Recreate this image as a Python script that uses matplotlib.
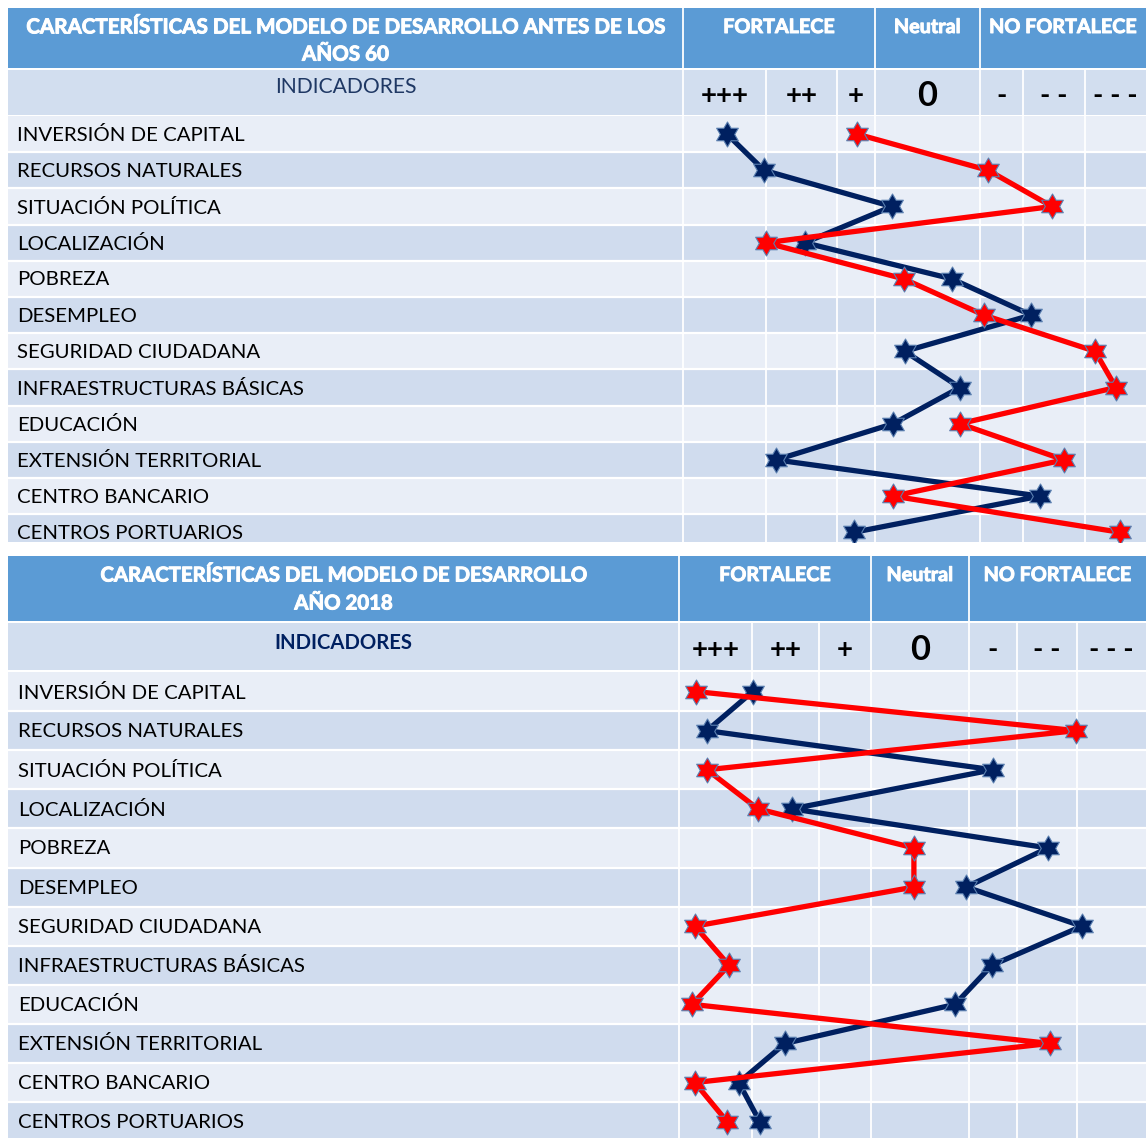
import matplotlib
matplotlib.use("Agg")
import matplotlib.pyplot as plt
from matplotlib.path import Path
from matplotlib.patches import Rectangle
from matplotlib import font_manager as fm
import matplotlib.patheffects as pe
import numpy as np

# ---------------- data ----------------
indicators = ["INVERSIÓN DE CAPITAL", "RECURSOS NATURALES", "SITUACIÓN POLÍTICA",
              "LOCALIZACIÓN", "POBREZA", "DESEMPLEO", "SEGURIDAD CIUDADANA",
              "INFRAESTRUCTURAS BÁSICAS", "EDUCACIÓN", "EXTENSIÓN TERRITORIAL",
              "CENTRO BANCARIO", "CENTROS PORTUARIOS"]
scale_labels = ["+++", "++", "+", "0", "-", "- -", "- - -"]
group_labels = ["FORTALECE", "Neutral", "NO FORTALECE"]
title_pre60 = "CARACTERÍSTICAS DEL MODELO DE DESARROLLO ANTES DE LOS\nAÑOS 60"
title_2018 = "CARACTERÍSTICAS DEL MODELO DE DESARROLLO\nAÑO 2018"
indic_label = "INDICADORES"

# positions on a 0-100 rating scale (0 = "+++" edge, 100 = "- - -" edge)
pre60_blue = [9.5, 17.5, 45.1, 26.3, 58.1, 75.2, 47.9, 59.8, 45.4, 20.1, 77.1, 36.9]
pre60_red = [37.6, 65.9, 79.7, 17.9, 47.7, 65.0, 89.0, 93.5, 59.8, 82.3, 45.4, 94.4]
y2018_blue = [15.8, 6.0, 67.2, 24.2, 79.0, 61.5, 86.3, 67.0, 59.1, 22.7, 12.8, 17.3]
y2018_red = [3.6, 85.0, 6.0, 16.9, 50.3, 50.3, 3.4, 10.7, 2.8, 79.4, 3.4, 10.3]

# ---------------- style ----------------
HEAD = "#5B9BD5"
SUB = "#D2DEEF"
LIGHT = "#E9EEF7"
DARK = "#D0DCEE"
NAVY = "#002060"
RED = "#FF0000"

entries = fm.fontManager.ttflist
names = {f.name for f in entries}
body = "Lato" if "Lato" in names else "DejaVu Sans"


def has_bold(fam):
    return any(f.name == fam and (f.weight in ("bold", "heavy", "black", "extra bold",
                                                "semibold", "demibold")
                                  or (isinstance(f.weight, int) and f.weight >= 600))
               for f in entries)


bold_font = next((f for f in ["Lato", "Open Sans", "Roboto", "Noto Sans", "DejaVu Sans"]
                  if has_bold(f)), "DejaVu Sans")
white_bold = [pe.withStroke(linewidth=0.7, foreground="white")]

angles = np.deg2rad(90 + np.arange(12) * 30)
radii = np.where(np.arange(12) % 2 == 0, 1.0, 1 / np.sqrt(3))
verts = np.column_stack([radii * np.cos(angles), radii * np.sin(angles)])
verts = np.vstack([verts, verts[0]])
codes = [Path.MOVETO] + [Path.LINETO] * 11 + [Path.CLOSEPOLY]
hexagram = Path(verts, codes)

W, H = 1146, 1138
fig = plt.figure(figsize=(W / 100, H / 100), dpi=100)
bg = fig.add_axes([0, 0, 1, 1])
bg.set_xlim(0, W)
bg.set_ylim(H, 0)
bg.axis("off")
renderer = fig.canvas.get_renderer()


def fit_size(txt, target_px, base=14, family=body, **kw):
    t = bg.text(0, 0, txt, fontsize=base, family=family, **kw)
    w = t.get_window_extent(renderer).width
    t.remove()
    return base * target_px / w


tables = [
    dict(left=8, right=1146, head_top=8, head_bot=68, sub_top=70, sub_bot=115,
         rows_top=116, row_h=36.2, bottom=541.5,
         cols=[683, 766, 837, 875, 980, 1023, 1085, 1146],
         groups=[683, 875, 980, 1146], title=title_pre60, title_w=646,
         title_lsp=1.45, title_dy=3, indic_bold=False, indic_w=142,
         indic_color="#1F3864", label_x=17, sym_y=96, indic_y=87,
         blue=pre60_blue, red=pre60_red),
    dict(left=8, right=1146, head_top=556, head_bot=621, sub_top=623, sub_bot=670,
         rows_top=672, row_h=39.1, bottom=1138,
         cols=[679, 752, 819, 871, 969, 1017, 1077, 1146],
         groups=[679, 871, 969, 1146], title=title_2018, title_w=493,
         title_lsp=1.5, title_dy=1, indic_bold=True, indic_w=139,
         indic_color=NAVY, label_x=18, sym_y=650, indic_y=643,
         blue=y2018_blue, red=y2018_red),
]

label_fs = fit_size(indicators[0], 228)
group_fs = fit_size(group_labels[0], 112, family=bold_font, fontweight="bold")
sym_fs = fit_size("+++", 48, family=bold_font, fontweight="bold")

for t in tables:
    L, R = t["left"], t["right"]
    lab_r = t["cols"][0]
    bg.add_patch(Rectangle((L, t["head_top"]), R - L, t["head_bot"] - t["head_top"],
                           facecolor=HEAD, edgecolor="none"))
    bg.add_patch(Rectangle((L, t["sub_top"]), R - L, t["sub_bot"] - t["sub_top"],
                           facecolor=SUB, edgecolor="none"))
    for i in range(12):
        y0 = t["rows_top"] + i * t["row_h"]
        y1 = min(y0 + t["row_h"], t["bottom"])
        bg.add_patch(Rectangle((L, y0), R - L, y1 - y0,
                               facecolor=LIGHT if i % 2 == 0 else DARK, edgecolor="none"))
        if i > 0:
            bg.plot([L, R], [y0, y0], color="white", lw=1.6, solid_capstyle="butt")
    for x in t["groups"][:-1]:
        bg.plot([x, x], [t["head_top"], t["head_bot"]], color="white", lw=1.3)
    for x in t["cols"][:-1]:
        bg.plot([x, x], [t["sub_top"], t["bottom"]], color="white", lw=1.3)

    title_fs = fit_size(t["title"].split("\n")[0], t["title_w"] - 4, family=bold_font,
                        fontweight="bold")
    hy = (t["head_top"] + t["head_bot"]) / 2 + t["title_dy"]
    bg.text((L + lab_r) / 2, hy, t["title"], ha="center", va="center", color="white",
            fontsize=title_fs, fontweight="bold", family=bold_font,
            linespacing=t["title_lsp"], path_effects=white_bold)
    gy = t["head_top"] + 19
    for g0, g1, lab in zip(t["groups"][:-1], t["groups"][1:], group_labels):
        bg.text((g0 + g1) / 2, gy, lab, ha="center", va="center", color="white",
                fontsize=group_fs, fontweight="bold", family=bold_font,
                path_effects=white_bold)
    iw = "bold" if t["indic_bold"] else "normal"
    ifam = bold_font if t["indic_bold"] else body
    indic_fs = fit_size(indic_label, t["indic_w"], family=ifam, fontweight=iw)
    bg.text((L + lab_r) / 2, t["indic_y"], indic_label, ha="center", va="center",
            color=t["indic_color"], fontsize=indic_fs, fontweight=iw, family=ifam)
    for c0, c1, s in zip(t["cols"][:-1], t["cols"][1:], scale_labels):
        bg.text((c0 + c1) / 2, t["sym_y"], s, ha="center", va="center", color="black",
                fontsize=sym_fs * (1.25 if s == "0" else 1.0), fontweight="bold",
                family=bold_font)
    for i, name in enumerate(indicators):
        yc = t["rows_top"] + (i + 0.5) * t["row_h"]
        if yc < t["bottom"]:
            bg.text(t["label_x"], yc + 1, name, ha="left", va="center", color="black",
                    fontsize=label_fs, family=body)

    x0 = t["cols"][0]
    ax = fig.add_axes([x0 / W, 1 - t["bottom"] / H, (R - x0) / W,
                       (t["bottom"] - t["rows_top"]) / H])
    ax.set_xlim(0, 100)
    ax.set_ylim(0.5 + (t["bottom"] - t["rows_top"]) / t["row_h"], 0.5)
    ax.axis("off")
    ax.patch.set_alpha(0)
    rows = np.arange(1, len(indicators) + 1)
    ax.plot(t["blue"], rows, color=NAVY, lw=3.8, marker=hexagram, markersize=18,
            markerfacecolor=NAVY, markeredgecolor="#5A7FB0", markeredgewidth=0.8,
            clip_on=True, zorder=3)
    ax.plot(t["red"], rows, color=RED, lw=3.8, marker=hexagram, markersize=18,
            markerfacecolor=RED, markeredgecolor="#5A7FB0", markeredgewidth=0.8,
            clip_on=True, zorder=4)

fig.savefig("out.png", dpi=100)
